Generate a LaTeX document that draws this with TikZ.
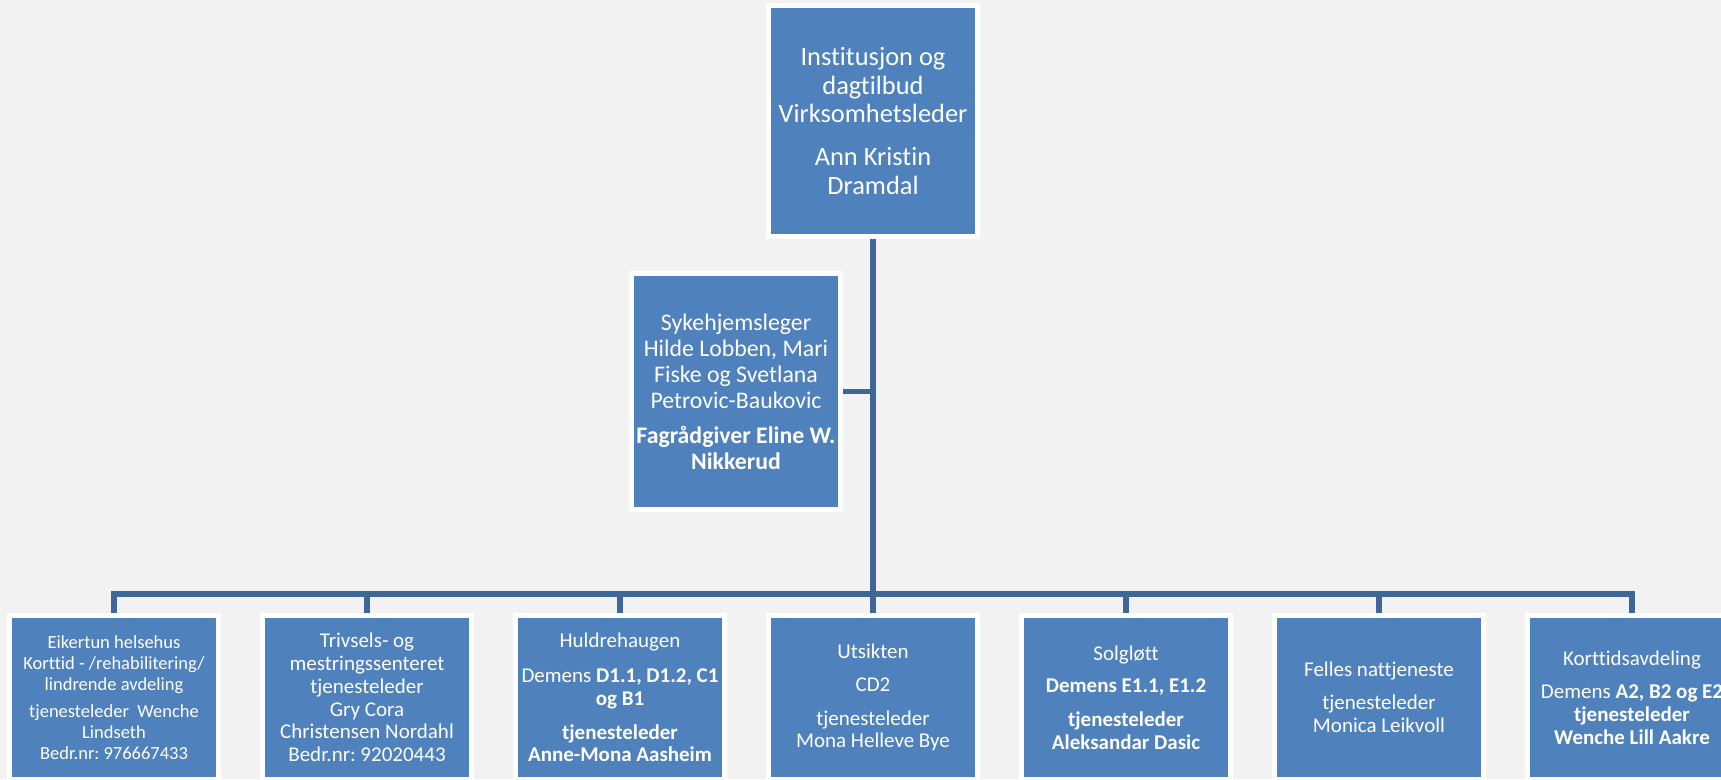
\documentclass[tikz,border=0pt]{standalone}
\usepackage{fontspec}
\setmainfont[Ligatures=NoCommon]{Carlito}
\definecolor{bg}{HTML}{F2F2F2}
\definecolor{boxblue}{HTML}{4F81BD}
\definecolor{linkblue}{RGB}{62,102,150}
\frenchspacing
\begin{document}
\begin{tikzpicture}[x=1pt,y=-1pt,
  box/.style={draw=white, line width=5pt, fill=boxblue, text=white, align=center, inner sep=0pt, minimum width=209pt},
  topbox/.style={box, minimum height=231pt, font=\fontsize{26.4}{28.4}\selectfont},
  docbox/.style={box, minimum height=236pt, font=\fontsize{23.8}{26}\selectfont},
  lowbox/.style={box, minimum height=164pt, font=\fontsize{21}{22.8}\selectfont},
  smallbox/.style={box, minimum height=164pt, font=\fontsize{18.5}{20.7}\selectfont},
  conn/.style={draw=linkblue, line width=5.5pt, line join=miter}
]
\useasboundingbox (0,0) rectangle (1721,779);
\clip (0,0) rectangle (1721,779);
\fill[bg] (0,0) rectangle (1721,779);

\node[topbox] (top) at (873,121) {Institusjon og\\ dagtilbud\\ Virksomhetsleder\\[15pt] Ann Kristin\\ Dramdal};
\node[docbox] (doc) at (736,391.5) {Sykehjemsleger\\ Hilde Lobben, Mari\\ Fiske og Svetlana\\ Petrovic-Baukovic\\[9pt] \textbf{Fagrådgiver Eline W.}\\ \textbf{Nikkerud}};

\node[smallbox] (b1) at (114,697.5) {Eikertun helsehus\\ Korttid - /rehabilitering/\\ lindrende avdeling\\[7pt] tjenesteleder\ \ Wenche\\ Lindseth\\ Bedr.nr: 976667433};
\node[lowbox] (b2) at (367,697.5) {Trivsels- og\\ mestringssenteret\\ tjenesteleder\\ Gry Cora\\ Christensen Nordahl\\ Bedr.nr: 92020443};
\node[lowbox] (b3) at (620,697.5) {Huldrehaugen\\[12pt] Demens \textbf{D1.1, D1.2, C1}\\ \textbf{og B1}\\[11pt] \textbf{tjenesteleder}\\ \textbf{Anne-Mona Aasheim}};
\node[lowbox] (b4) at (873,697.5) {Utsikten\\[10pt] CD2\\[11pt] tjenesteleder\\ Mona Helleve Bye};
\node[lowbox] (b5) at (1126,697.5) {Solgløtt\\[10pt] \textbf{Demens E1.1, E1.2}\\[11pt] \textbf{tjenesteleder}\\ \textbf{Aleksandar Dasic}};
\node[lowbox] (b6) at (1379,697.5) {Felles nattjeneste\\[10pt] tjenesteleder\\ Monica Leikvoll};
\node[lowbox] (b7) at (1632,697.5) {Korttidsavdeling\\[11pt] Demens \textbf{A2, B2 og E2}\\ \textbf{tjenesteleder}\\ \textbf{Wenche Lill Aakre}};

\coordinate (bar) at (873,594);
\draw[conn] (top.south) -- (top.south |- bar);
\draw[conn] (doc.east) -- (doc.east -| top.south);
\draw[conn] (b1.north) -- (b1.north |- bar) -- (b7.north |- bar) -- (b7.north);
\foreach \n in {b2,b3,b4,b5,b6} {
  \draw[conn] (\n.north |- bar) -- (\n.north);
}
\end{tikzpicture}
\end{document}
